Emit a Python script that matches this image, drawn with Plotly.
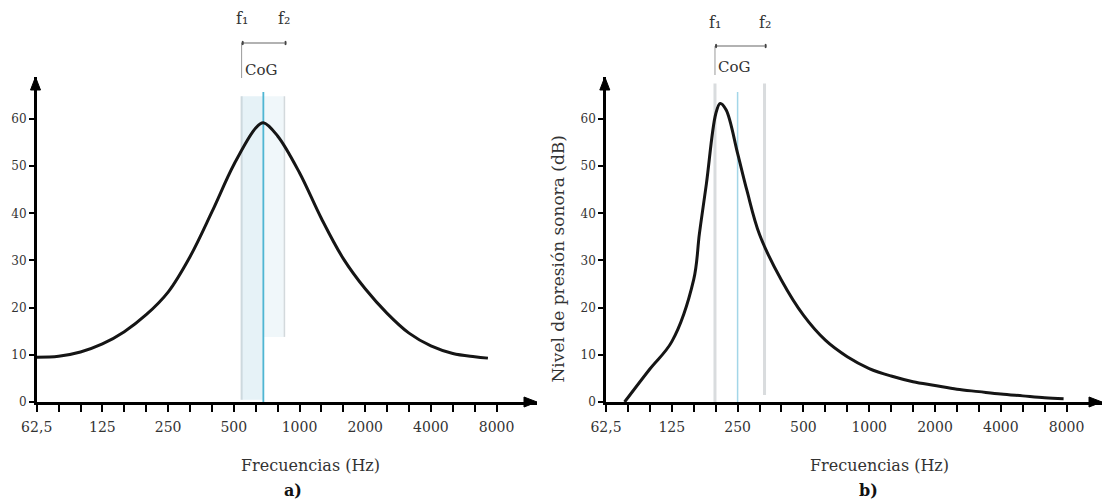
import math
import plotly.graph_objects as go

# ---------------- data ----------------
# panel a) broad spectrum
freq_a = [62.5, 78.75, 99.21, 125, 157.5, 198.4, 250, 315, 396.9, 500, 630, 683,
          793.7, 1000, 1260, 1587, 2000, 2520, 3175, 4000, 5040, 6350, 7300]
level_a = [9.5, 9.7, 10.6, 12.3, 14.9, 18.5, 23.3, 30.8, 40.3, 50.3, 58.1, 59.2,
           56.4, 48.6, 38.9, 30.4, 24.0, 18.8, 14.6, 11.9, 10.3, 9.6, 9.3]

# panel b) low, narrow peak
freq_b = [76, 99.21, 125, 157.5, 167.2, 180, 198.4, 208, 221.7, 250, 275.6, 315,
          396.9, 500, 630, 793.7, 1000, 1260, 1587, 2000, 2520, 3175, 4000, 5040, 6350, 7750]
level_b = [0.0, 7.0, 12.8, 26.0, 35.7, 46.3, 61.0, 63.3, 61.9, 52.7, 44.9, 35.5,
           25.8, 18.4, 13.1, 9.6, 7.1, 5.5, 4.3, 3.5, 2.7, 2.2, 1.7, 1.3, 0.9, 0.7]

# f1, centre of gravity, f2 (Hz)
F1_A, COG_A, F2_A = 543, 683, 853
F1_B, COG_B, F2_B = 197, 250, 332

# axis ticks: labelled octaves, minor ticks on third-octave bands
octave_vals = [62.5, 125, 250, 500, 1000, 2000, 4000, 8000]
octave_text = ["62,5", "125", "250", "500", "1000", "2000", "4000", "8000"]
third_vals = [62.5, 78.75, 99.21, 125, 157.5, 198.4, 250, 315, 396.9, 500, 630, 793.7,
              1000, 1260, 1587, 2000, 2520, 3175, 4000, 5040, 6350, 8000]
y_ticks = [0, 10, 20, 30, 40, 50, 60]

FONT = "DejaVu Serif"
W, H = 1102, 503

fig = go.Figure()
fig.add_trace(go.Scatter(x=freq_a, y=level_a, mode="lines", xaxis="x", yaxis="y",
                         line=dict(color="#151515", width=3, shape="spline", smoothing=1),
                         showlegend=False, hoverinfo="skip"))
fig.add_trace(go.Scatter(x=freq_b, y=level_b, mode="lines", xaxis="x2", yaxis="y2",
                         line=dict(color="#151515", width=3, shape="spline", smoothing=1),
                         showlegend=False, hoverinfo="skip"))

y_bottom = 1 - 402 / H
y_top = 1 - 77 / H
YMAX = 68.9

def xaxis(domain, rng, anchor):
    return dict(type="log", domain=domain, range=rng, anchor=anchor, automargin=False,
                showline=True, linecolor="black",
                linewidth=2.5, ticks="outside", ticklen=7, tickwidth=1.5, tickcolor="black",
                tickmode="array", tickvals=octave_vals, ticktext=octave_text,
                minor=dict(tickmode="array", tickvals=third_vals, ticks="outside", ticklen=7,
                           tickwidth=1.5, tickcolor="black", showgrid=False),
                showgrid=False, zeroline=False,
                tickfont=dict(family=FONT, size=14, color="#333"), ticklabelstandoff=3)

def yaxis(anchor):
    return dict(domain=[y_bottom, y_top], range=[0, YMAX], anchor=anchor, automargin=False,
                showline=True, linecolor="black", linewidth=2.5, ticks="outside", ticklen=5,
                tickwidth=1.5, tickcolor="black", tickvals=y_ticks, showgrid=False,
                zeroline=False, tickfont=dict(family=FONT, size=12, color="#333"))

lg0 = math.log10(62.5)
XA0, XA1 = 36.7 / W, 537 / W
XB0, XB1 = 606 / W, 1.0
fig.update_layout(
    width=W, height=H, margin=dict(l=0, r=0, t=0, b=0, autoexpand=False),
    template="none", paper_bgcolor="white", plot_bgcolor="white",
    xaxis=xaxis([XA0, XA1], [lg0, lg0 + 500.3 * math.log10(2) / 65.7], "y"),
    yaxis=yaxis("x"),
    xaxis2=xaxis([XB0, XB1], [lg0, lg0 + 496 * math.log10(2) / 65.8], "y2"),
    yaxis2=yaxis("x2"),
)

shapes = []
# panel a band tint and lines
shapes.append(dict(type="rect", xref="x", yref="y", x0=F1_A, x1=COG_A, y0=0.5, y1=64.8,
                   fillcolor="#e6f2f7", line=dict(width=0), layer="below"))
shapes.append(dict(type="rect", xref="x", yref="y", x0=COG_A, x1=F2_A, y0=13.8, y1=64.8,
                   fillcolor="#f0f7fa", line=dict(width=0), layer="below"))
shapes.append(dict(type="line", xref="x", yref="y", x0=F1_A, x1=F1_A, y0=0.5, y1=64.8,
                   line=dict(color="#cdd9de", width=2), layer="below"))
shapes.append(dict(type="line", xref="x", yref="y", x0=COG_A, x1=COG_A, y0=0, y1=65.7,
                   line=dict(color="#4fb6d3", width=1.8), layer="below"))
shapes.append(dict(type="line", xref="x", yref="y", x0=F2_A, x1=F2_A, y0=13.8, y1=64.8,
                   line=dict(color="#d3d9dc", width=1.5), layer="below"))
# panel b lines
shapes.append(dict(type="line", xref="x2", yref="y2", x0=F1_B, x1=F1_B, y0=0, y1=67.5,
                   line=dict(color="#d9dcde", width=3), layer="below"))
shapes.append(dict(type="line", xref="x2", yref="y2", x0=COG_B, x1=COG_B, y0=0, y1=65.7,
                   line=dict(color="#a3d6e8", width=1.5), layer="below"))
shapes.append(dict(type="line", xref="x2", yref="y2", x0=F2_B, x1=F2_B, y0=1.5, y1=67.5,
                   line=dict(color="#d9dcde", width=3), layer="below"))

# axis arrowheads (pixel-sized paths anchored at axis ends)
for x_end, x_start in [(XA1, XA0), (XB1, XB0)]:
    shapes.append(dict(type="path", xref="paper", yref="paper", xsizemode="pixel",
                       ysizemode="pixel", xanchor=x_end, yanchor=y_bottom,
                       path="M 0,0 L -13,5 L -13,-5 Z", fillcolor="black",
                       line=dict(color="black", width=1)))
    shapes.append(dict(type="path", xref="paper", yref="paper", xsizemode="pixel",
                       ysizemode="pixel", xanchor=x_start - 1.2 / W, yanchor=y_top,
                       path="M 0,0 L -5,-13 L 5,-13 Z", fillcolor="black",
                       line=dict(color="black", width=1)))

ann = []
# f1-f2 brackets and labels
for xr, f1, f2, ybr, ylab, ycog in [("x", F1_A, F2_A, 43, 18, 70), ("x2", F1_B, F2_B, 46, 22, 67)]:
    yb = 1 - ybr / H
    shapes.append(dict(type="line", xref=xr, yref="paper", x0=f1, x1=f2, y0=yb, y1=yb,
                       line=dict(color="#666", width=1.2)))
    shapes.append(dict(type="line", xref=xr, yref="paper", x0=f1, x1=f1,
                       y0=1 - (ycog + 8) / H, y1=yb, line=dict(color="#999", width=1)))
    for f in (f1, f2):
        shapes.append(dict(type="circle", xref=xr, yref="paper", xsizemode="pixel",
                           ysizemode="pixel", xanchor=f, yanchor=yb, x0=-2.2, x1=2.2,
                           y0=-2.2, y1=2.2, fillcolor="#444", line=dict(width=0)))
    for f, lab in ((f1, "f₁"), (f2, "f₂")):
        ann.append(dict(xref=xr, yref="paper", x=math.log10(f), y=1 - ylab / H,
                        xanchor="center", yanchor="middle", text=lab, showarrow=False,
                        font=dict(family=FONT, size=16, color="#333")))
    ann.append(dict(xref=xr, yref="paper", x=math.log10(f1), y=1 - ycog / H, xanchor="left",
                    yanchor="middle", xshift=1, text="CoG", showarrow=False,
                    font=dict(family=FONT, size=15, color="#333")))

# titles
for xc in (310 / W, 880 / W):
    ann.append(dict(xref="paper", yref="paper", x=xc, y=1 - 465 / H, xanchor="center",
                    yanchor="middle", text="Frecuencias (Hz)", showarrow=False,
                    font=dict(family=FONT, size=16, color="#333")))
for xc, lab in [(293 / W, "a)"), (868 / W, "b)")]:
    ann.append(dict(xref="paper", yref="paper", x=xc, y=1 - 490 / H, xanchor="center",
                    yanchor="middle", text="<b>" + lab + "</b>", showarrow=False,
                    font=dict(family=FONT, size=16, color="#111")))
ann.append(dict(xref="paper", yref="paper", x=557.5 / W, y=1 - 259 / H, xanchor="center",
                yanchor="middle", text="Nivel de presión sonora (dB)", textangle=-90,
                showarrow=False, font=dict(family=FONT, size=17, color="#333")))

fig.update_layout(shapes=shapes, annotations=ann)
fig.write_html("out.html")
